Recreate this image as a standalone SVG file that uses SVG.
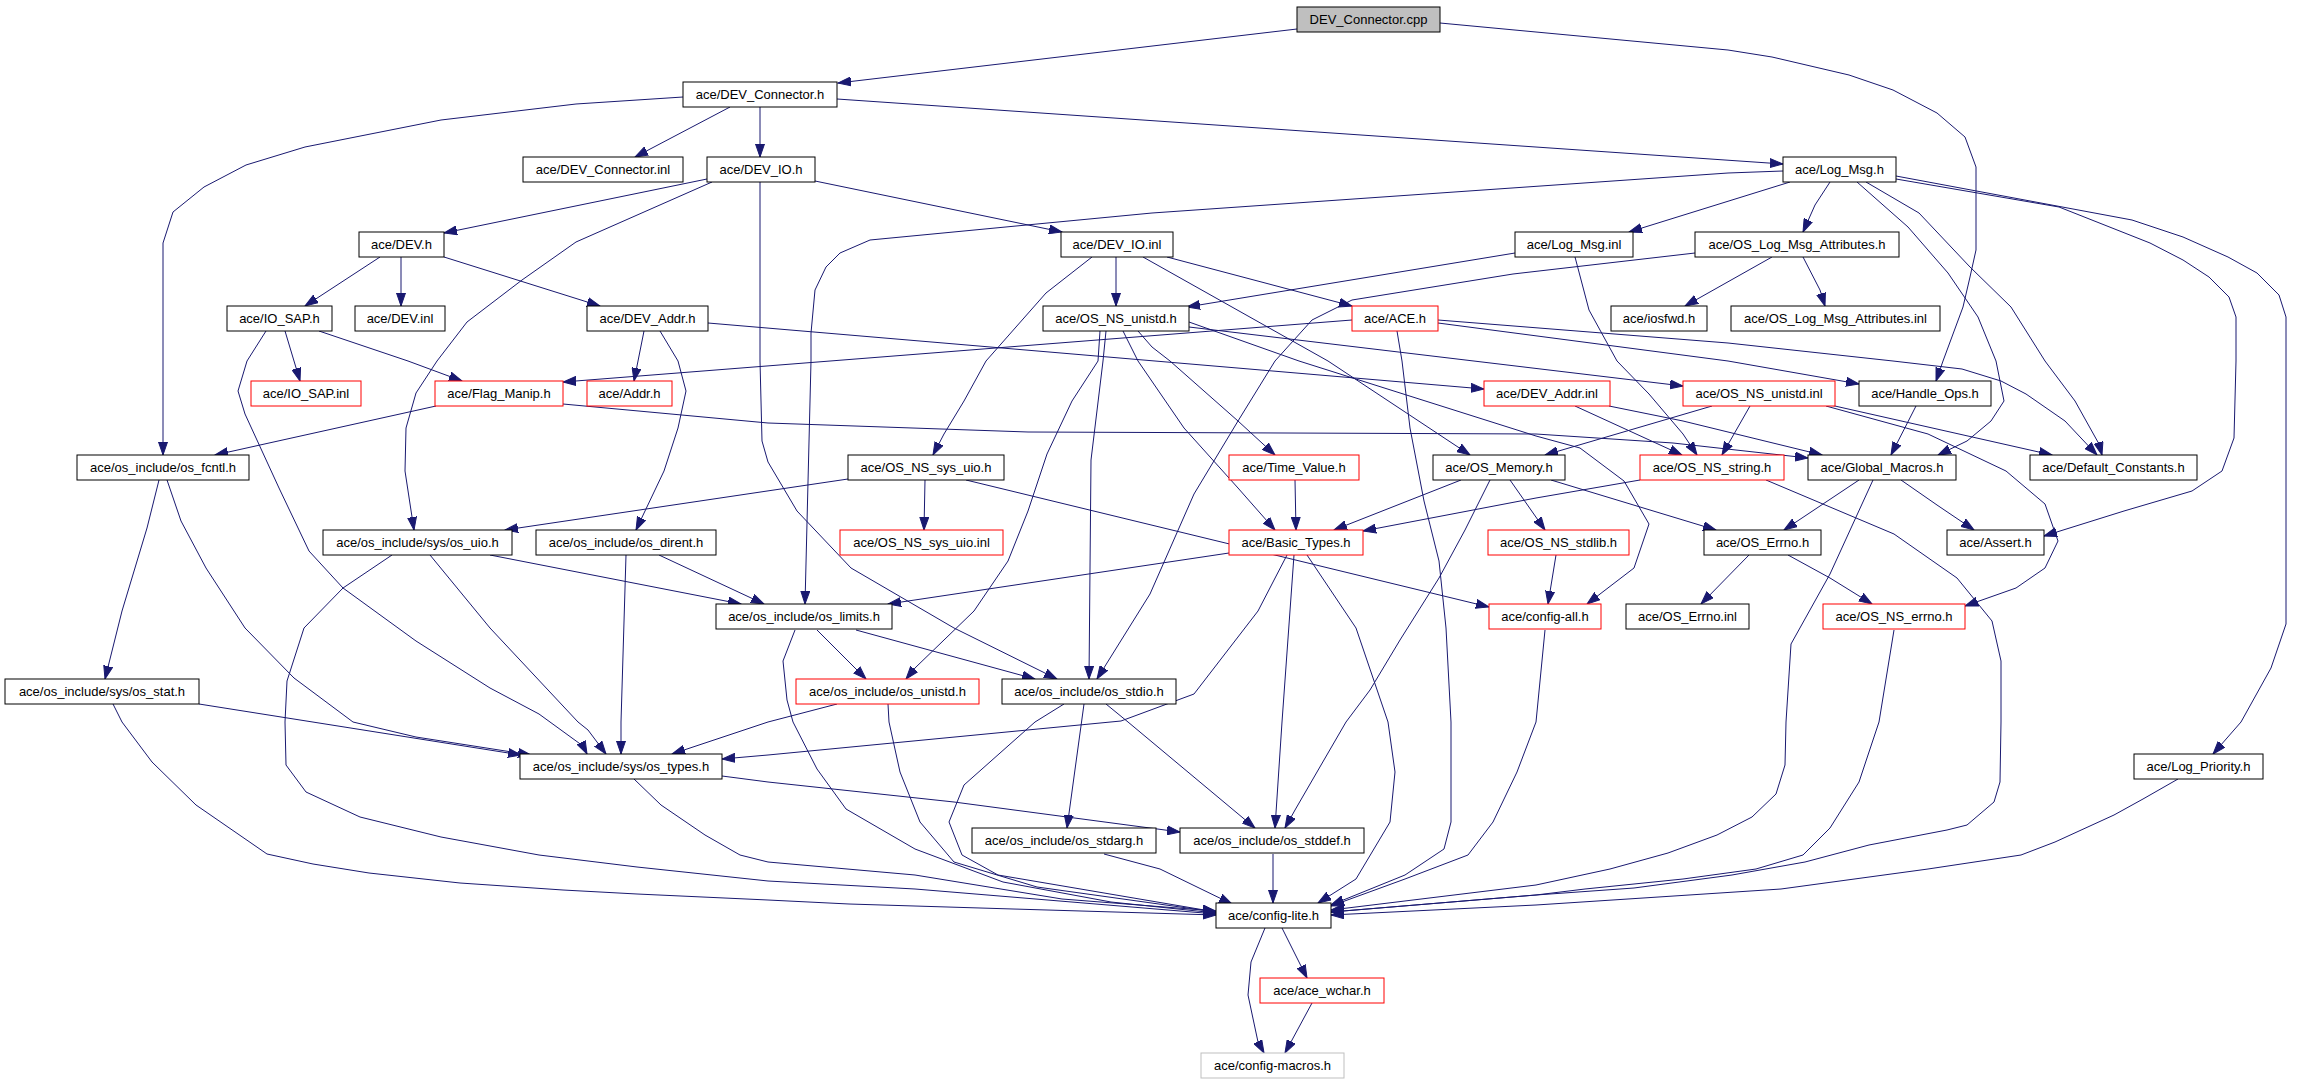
<svg xmlns="http://www.w3.org/2000/svg" width="2304" height="1083" viewBox="0 0 2304 1083">
<style>
.n rect{fill:#fff;stroke:#000;stroke-width:1}
.n.r rect{stroke:#ff0000}
.n.g rect{stroke:#bfbfbf}
.n.f rect{fill:#bfbfbf}
.n text{font-family:"Liberation Sans",Arial,sans-serif;font-size:13px;text-anchor:middle;fill:#000}
.e path{fill:none;stroke:#191970;stroke-width:1;stroke-linejoin:round;marker-end:url(#ah)}
</style>
<defs>
<marker id="ah" markerUnits="userSpaceOnUse" markerWidth="14" markerHeight="10" refX="13" refY="5" orient="auto"><path d="M0,0.5 L13,5 L0,9.5 Z" fill="#191970" stroke="#191970" stroke-width="1"/></marker>
</defs>
<rect width="2304" height="1083" fill="#fff"/>
<g id="edges" class="e">
<path d="M1297,29 L838,83"/>
<path d="M1440,23 L1728,50 L1772,57 L1849,75 L1893,90 L1937,113 L1965,137 L1976,167 L1976,250 L1970,277 L1963,307 L1943,361 L1936,381"/>
<path d="M730,107 L635,157"/>
<path d="M760,107 L760,157"/>
<path d="M837,99 L1783,164"/>
<path d="M683,97 L576,104 L441,120 L305,147 L246,165 L204,187 L173,212 L163,243 L163,361 L163,455"/>
<path d="M707,179 L444,233"/>
<path d="M712,182 L576,242 L522,280 L467,322 L437,361 L416,393 L406,428 L405,471 L414,530"/>
<path d="M760,182 L760,361 L762,441 L768,462 L797,511 L851,568 L954,628 L1057,679"/>
<path d="M815,181 L1062,232"/>
<path d="M1783,171 L1728,173 L1152,213 L870,240 L840,253 L826,267 L815,290 L811,333 L811,361 L805,604"/>
<path d="M1790,182 L1629,232"/>
<path d="M1830,182 L1815,205 L1803,232"/>
<path d="M1857,182 L1908,227 L1948,273 L1978,317 L1996,361 L2004,401 L1991,421 L1967,441 L1938,455"/>
<path d="M1866,182 L1919,213 L1970,267 L2011,307 L2045,361 L2075,401 L2099,444 L2102,455"/>
<path d="M1896,179 L2059,207 L2150,243 L2183,260 L2209,277 L2229,297 L2236,317 L2236,361 L2234,438 L2222,471 L2192,491 L2124,511 L2044,536"/>
<path d="M1896,176 L2132,220 L2183,237 L2228,257 L2257,273 L2279,295 L2286,317 L2286,624 L2271,668 L2241,722 L2213,754"/>
<path d="M1575,257 L1589,310 L1617,361 L1649,394 L1683,434 L1697,455"/>
<path d="M1515,253 L1187,307"/>
<path d="M1695,253 L1513,274 L1352,300 L1312,320 L1275,361 L1238,421 L1194,494 L1150,594 L1097,679"/>
<path d="M1772,257 L1685,306"/>
<path d="M1803,257 L1820,290 L1825,306"/>
<path d="M380,257 L305,306"/>
<path d="M401,257 L401,306"/>
<path d="M444,257 L600,306"/>
<path d="M1116,257 L1116,306"/>
<path d="M1167,257 L1352,306"/>
<path d="M1143,257 L1328,361 L1470,455"/>
<path d="M1092,257 L1046,293 L986,361 L964,401 L944,434 L933,455"/>
<path d="M285,331 L294,361 L300,381"/>
<path d="M319,331 L408,361 L462,381"/>
<path d="M266,331 L247,361 L238,391 L245,414 L279,488 L309,551 L343,588 L416,641 L490,688 L539,714 L583,746 L587,754"/>
<path d="M644,331 L634,381"/>
<path d="M660,331 L678,361 L686,391 L678,428 L664,471 L636,530"/>
<path d="M708,323 L1155,361 L1484,389"/>
<path d="M1189,327 L1683,386"/>
<path d="M1189,322 L1299,361 L1536,436 L1580,448 L1624,481 L1649,524 L1634,568 L1587,604"/>
<path d="M1138,331 L1152,347 L1170,361 L1238,421 L1275,455"/>
<path d="M1123,331 L1138,361 L1184,428 L1238,488 L1275,530"/>
<path d="M1100,331 L1098,361 L1072,401 L1047,454 L1028,511 L1008,561 L974,611 L915,668 L906,679"/>
<path d="M1106,331 L1103,361 L1091,460 L1089,679"/>
<path d="M1352,320 L563,382"/>
<path d="M1438,323 L1728,361 L1859,384"/>
<path d="M1438,320 L1728,343 L1893,361 L1962,369 L2001,381 L2026,394 L2065,421 L2097,455"/>
<path d="M1397,331 L1402,361 L1410,428 L1424,501 L1439,561 L1446,628 L1451,722 L1451,822 L1444,849 L1405,875 L1331,905"/>
<path d="M436,406 L215,455"/>
<path d="M563,404 L768,423 L1028,432 L1536,434 L1673,443 L1808,458"/>
<path d="M1575,406 L1682,455"/>
<path d="M1609,406 L1683,421 L1822,455"/>
<path d="M1712,406 L1545,455"/>
<path d="M1750,406 L1722,455"/>
<path d="M1826,404 L2052,455"/>
<path d="M1826,406 L1928,434 L2006,471 L2045,504 L2058,541 L2045,568 L2016,588 L1965,606"/>
<path d="M1916,406 L1891,455"/>
<path d="M159,480 L147,528 L122,611 L105,679"/>
<path d="M167,480 L181,521 L206,568 L245,628 L294,678 L353,722 L416,737 L531,755"/>
<path d="M199,704 L521,755"/>
<path d="M113,704 L122,722 L152,762 L196,805 L267,854 L313,864 L369,873 L460,883 L563,890 L637,894 L768,900 L849,904 L1013,909 L1216,915"/>
<path d="M925,480 L924,530"/>
<path d="M848,479 L505,530"/>
<path d="M966,480 L1489,607"/>
<path d="M1295,480 L1296,530"/>
<path d="M1461,480 L1334,530"/>
<path d="M1490,480 L1465,530 L1439,578 L1400,640 L1370,690 L1346,722 L1317,772 L1295,810 L1285,828"/>
<path d="M1510,480 L1545,530"/>
<path d="M1551,480 L1716,530"/>
<path d="M1640,480 L1536,498 L1363,531"/>
<path d="M1766,480 L1894,534 L1957,578 L1992,621 L2001,661 L2001,722 L2000,782 L1994,802 L1967,825 L1947,830 L1869,845 L1805,862 L1732,875 L1634,888 L1536,895 L1331,912"/>
<path d="M1859,480 L1784,530"/>
<path d="M1901,480 L1937,505 L1974,530"/>
<path d="M1873,480 L1830,574 L1791,644 L1786,722 L1785,765 L1776,794 L1752,817 L1717,835 L1668,853 L1610,869 L1536,885 L1331,910"/>
<path d="M490,555 L741,604"/>
<path d="M430,555 L490,628 L578,722 L588,730 L606,754"/>
<path d="M392,555 L343,588 L304,628 L287,681 L285,722 L286,765 L306,792 L360,817 L441,837 L539,855 L637,867 L768,881 L915,889 L1216,914"/>
<path d="M659,555 L764,604"/>
<path d="M626,555 L621,722 L621,754"/>
<path d="M1229,553 L888,604"/>
<path d="M1287,555 L1258,611 L1194,694 L1121,721 L768,755 L722,759"/>
<path d="M1294,555 L1282,722 L1275,828"/>
<path d="M1307,555 L1356,628 L1388,722 L1395,772 L1390,822 L1356,879 L1318,903"/>
<path d="M1556,555 L1548,604"/>
<path d="M1749,555 L1701,604"/>
<path d="M1788,555 L1830,578 L1872,604"/>
<path d="M817,630 L866,679"/>
<path d="M856,630 L1035,679"/>
<path d="M795,630 L783,661 L787,700 L793,722 L817,769 L846,809 L915,849 L1003,882 L1111,902 L1216,913"/>
<path d="M1545,630 L1536,722 L1517,772 L1493,822 L1468,855 L1405,879 L1331,906"/>
<path d="M1894,630 L1879,722 L1859,782 L1830,828 L1803,855 L1756,869 L1683,879 L1585,889 L1536,895 L1331,912"/>
<path d="M837,704 L768,722 L672,754"/>
<path d="M888,704 L889,722 L900,772 L920,822 L954,862 L1037,887 L1216,912"/>
<path d="M1084,704 L1067,828"/>
<path d="M1106,704 L1128,722 L1255,828"/>
<path d="M1064,704 L1035,722 L964,785 L949,822 L962,855 L998,875 L1216,912"/>
<path d="M634,779 L661,805 L705,835 L740,855 L768,862 L915,875 L1062,899 L1216,911"/>
<path d="M722,776 L768,782 L954,802 L1180,832"/>
<path d="M2178,779 L2143,799 L2114,815 L2055,842 L2021,855 L1928,869 L1781,889 L1536,905 L1331,915"/>
<path d="M1104,854 L1160,869 L1232,904"/>
<path d="M1273,854 L1273,903"/>
<path d="M1282,928 L1307,978"/>
<path d="M1265,928 L1251,962 L1248,995 L1258,1042 L1264,1053"/>
<path d="M1312,1003 L1285,1053"/>
</g>
<g id="n_cpp" class="n f"><rect x="1297" y="7" width="143" height="25"/><text x="1368.5" y="24">DEV_Connector.cpp</text></g>
<g id="n_dev_connector_h" class="n"><rect x="683" y="82" width="154" height="25"/><text x="760" y="99">ace/DEV_Connector.h</text></g>
<g id="n_dev_connector_inl" class="n"><rect x="523" y="157" width="160" height="25"/><text x="603" y="174">ace/DEV_Connector.inl</text></g>
<g id="n_dev_io_h" class="n"><rect x="707" y="157" width="108" height="25"/><text x="761" y="174">ace/DEV_IO.h</text></g>
<g id="n_log_msg_h" class="n"><rect x="1783" y="157" width="113" height="25"/><text x="1839.5" y="174">ace/Log_Msg.h</text></g>
<g id="n_dev_h" class="n"><rect x="359" y="232" width="85" height="25"/><text x="401.5" y="249">ace/DEV.h</text></g>
<g id="n_dev_io_inl" class="n"><rect x="1061" y="232" width="112" height="25"/><text x="1117" y="249">ace/DEV_IO.inl</text></g>
<g id="n_log_msg_inl" class="n"><rect x="1515" y="232" width="118" height="25"/><text x="1574" y="249">ace/Log_Msg.inl</text></g>
<g id="n_os_log_msg_attr_h" class="n"><rect x="1695" y="232" width="204" height="25"/><text x="1797" y="249">ace/OS_Log_Msg_Attributes.h</text></g>
<g id="n_io_sap_h" class="n"><rect x="227" y="306" width="105" height="25"/><text x="279.5" y="323">ace/IO_SAP.h</text></g>
<g id="n_dev_inl" class="n"><rect x="355" y="306" width="90" height="25"/><text x="400" y="323">ace/DEV.inl</text></g>
<g id="n_dev_addr_h" class="n"><rect x="587" y="306" width="121" height="25"/><text x="647.5" y="323">ace/DEV_Addr.h</text></g>
<g id="n_os_ns_unistd_h" class="n"><rect x="1043" y="306" width="146" height="25"/><text x="1116" y="323">ace/OS_NS_unistd.h</text></g>
<g id="n_ace_h" class="n r"><rect x="1352" y="306" width="86" height="25"/><text x="1395" y="323">ace/ACE.h</text></g>
<g id="n_iosfwd_h" class="n"><rect x="1611" y="306" width="96" height="25"/><text x="1659" y="323">ace/iosfwd.h</text></g>
<g id="n_os_log_msg_attr_inl" class="n"><rect x="1731" y="306" width="209" height="25"/><text x="1835.5" y="323">ace/OS_Log_Msg_Attributes.inl</text></g>
<g id="n_io_sap_inl" class="n r"><rect x="251" y="381" width="110" height="25"/><text x="306" y="398">ace/IO_SAP.inl</text></g>
<g id="n_flag_manip_h" class="n r"><rect x="435" y="381" width="128" height="25"/><text x="499" y="398">ace/Flag_Manip.h</text></g>
<g id="n_addr_h" class="n r"><rect x="587" y="381" width="85" height="25"/><text x="629.5" y="398">ace/Addr.h</text></g>
<g id="n_dev_addr_inl" class="n r"><rect x="1484" y="381" width="126" height="25"/><text x="1547" y="398">ace/DEV_Addr.inl</text></g>
<g id="n_os_ns_unistd_inl" class="n r"><rect x="1683" y="381" width="152" height="25"/><text x="1759" y="398">ace/OS_NS_unistd.inl</text></g>
<g id="n_handle_ops_h" class="n"><rect x="1859" y="381" width="132" height="25"/><text x="1925" y="398">ace/Handle_Ops.h</text></g>
<g id="n_os_fcntl_h" class="n"><rect x="77" y="455" width="172" height="25"/><text x="163" y="472">ace/os_include/os_fcntl.h</text></g>
<g id="n_os_ns_sys_uio_h" class="n"><rect x="848" y="455" width="156" height="25"/><text x="926" y="472">ace/OS_NS_sys_uio.h</text></g>
<g id="n_time_value_h" class="n r"><rect x="1229" y="455" width="130" height="25"/><text x="1294" y="472">ace/Time_Value.h</text></g>
<g id="n_os_memory_h" class="n"><rect x="1433" y="455" width="132" height="25"/><text x="1499" y="472">ace/OS_Memory.h</text></g>
<g id="n_os_ns_string_h" class="n r"><rect x="1640" y="455" width="144" height="25"/><text x="1712" y="472">ace/OS_NS_string.h</text></g>
<g id="n_global_macros_h" class="n"><rect x="1808" y="455" width="148" height="25"/><text x="1882" y="472">ace/Global_Macros.h</text></g>
<g id="n_default_constants_h" class="n"><rect x="2030" y="455" width="167" height="25"/><text x="2113.5" y="472">ace/Default_Constants.h</text></g>
<g id="n_os_uio_h" class="n"><rect x="323" y="530" width="189" height="25"/><text x="417.5" y="547">ace/os_include/sys/os_uio.h</text></g>
<g id="n_os_dirent_h" class="n"><rect x="536" y="530" width="180" height="25"/><text x="626" y="547">ace/os_include/os_dirent.h</text></g>
<g id="n_os_ns_sys_uio_inl" class="n r"><rect x="840" y="530" width="163" height="25"/><text x="921.5" y="547">ace/OS_NS_sys_uio.inl</text></g>
<g id="n_basic_types_h" class="n r"><rect x="1229" y="530" width="134" height="25"/><text x="1296" y="547">ace/Basic_Types.h</text></g>
<g id="n_os_ns_stdlib_h" class="n r"><rect x="1488" y="530" width="141" height="25"/><text x="1558.5" y="547">ace/OS_NS_stdlib.h</text></g>
<g id="n_os_errno_h" class="n"><rect x="1704" y="530" width="117" height="25"/><text x="1762.5" y="547">ace/OS_Errno.h</text></g>
<g id="n_assert_h" class="n"><rect x="1947" y="530" width="97" height="25"/><text x="1995.5" y="547">ace/Assert.h</text></g>
<g id="n_os_limits_h" class="n"><rect x="716" y="604" width="176" height="25"/><text x="804" y="621">ace/os_include/os_limits.h</text></g>
<g id="n_config_all_h" class="n r"><rect x="1489" y="604" width="112" height="25"/><text x="1545" y="621">ace/config-all.h</text></g>
<g id="n_os_errno_inl" class="n"><rect x="1626" y="604" width="123" height="25"/><text x="1687.5" y="621">ace/OS_Errno.inl</text></g>
<g id="n_os_ns_errno_h" class="n r"><rect x="1823" y="604" width="142" height="25"/><text x="1894" y="621">ace/OS_NS_errno.h</text></g>
<g id="n_os_stat_h" class="n"><rect x="5" y="679" width="194" height="25"/><text x="102" y="696">ace/os_include/sys/os_stat.h</text></g>
<g id="n_os_unistd_h" class="n r"><rect x="796" y="679" width="183" height="25"/><text x="887.5" y="696">ace/os_include/os_unistd.h</text></g>
<g id="n_os_stdio_h" class="n"><rect x="1002" y="679" width="174" height="25"/><text x="1089" y="696">ace/os_include/os_stdio.h</text></g>
<g id="n_os_types_h" class="n"><rect x="520" y="754" width="202" height="25"/><text x="621" y="771">ace/os_include/sys/os_types.h</text></g>
<g id="n_log_priority_h" class="n"><rect x="2134" y="754" width="129" height="25"/><text x="2198.5" y="771">ace/Log_Priority.h</text></g>
<g id="n_os_stdarg_h" class="n"><rect x="972" y="828" width="184" height="25"/><text x="1064" y="845">ace/os_include/os_stdarg.h</text></g>
<g id="n_os_stddef_h" class="n"><rect x="1180" y="828" width="184" height="25"/><text x="1272" y="845">ace/os_include/os_stddef.h</text></g>
<g id="n_config_lite_h" class="n"><rect x="1216" y="903" width="115" height="25"/><text x="1273.5" y="920">ace/config-lite.h</text></g>
<g id="n_ace_wchar_h" class="n r"><rect x="1260" y="978" width="124" height="25"/><text x="1322" y="995">ace/ace_wchar.h</text></g>
<g id="n_config_macros_h" class="n g"><rect x="1201" y="1053" width="143" height="25"/><text x="1272.5" y="1070">ace/config-macros.h</text></g>
</svg>
